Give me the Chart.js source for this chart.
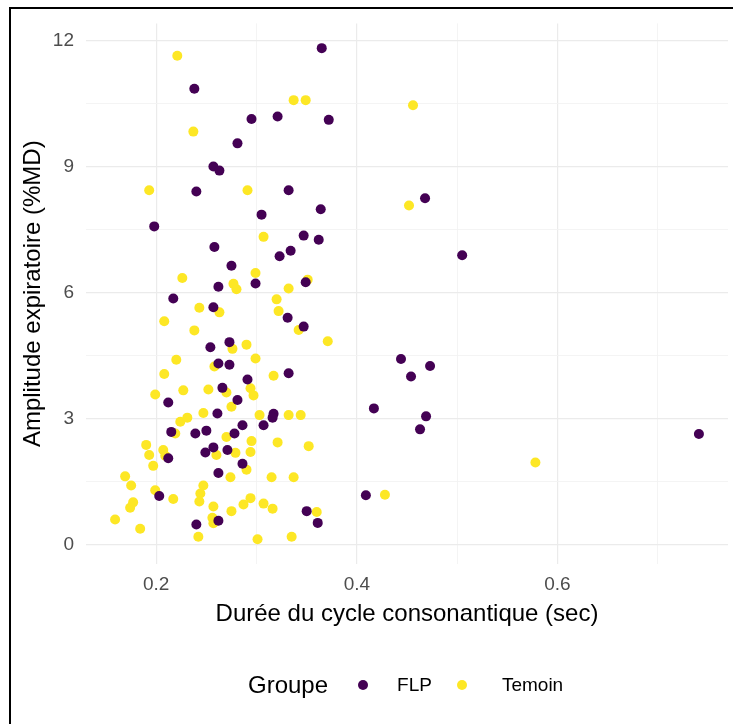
<!DOCTYPE html>
<html>
<head>
<meta charset="utf-8">
<script src="https://cdn.jsdelivr.net/npm/chart.js@4.4.1/dist/chart.umd.min.js"></script>
<style>
html, body { margin: 0; padding: 0; background: #fff; }
body { width: 733px; height: 724px; position: relative; overflow: hidden; font-family: "Liberation Sans", Arial, sans-serif; }
#frame { position: absolute; left: 9px; top: 7px; width: 800px; height: 800px; border-left: 2px solid #000; border-top: 2px solid #000; }
#graf { position: absolute; left: 0; top: 0; }
#legend { position: absolute; left: 248px; top: 668px; height: 34px; display: flex; align-items: center; color: #000; }
#legend .titre { font-size: 24px; margin-right: 30px; }
#legend .pt { width: 10px; height: 10px; border-radius: 50%; display: inline-block; }
#legend .lbl { font-size: 19px; margin-left: 29px; margin-right: 25px; }
</style>
</head>
<body>
<div id="frame"></div>
<canvas id="graf" width="733" height="724"></canvas>
<div id="legend"><span class="titre">Groupe</span></div>
<script>
// valeurs
const groupes = ['FLP', 'Temoin'];
const couleurs = ['#440154', '#FDE725'];

const flpX = [0.238, 0.295, 0.281, 0.257, 0.263, 0.240, 0.365, 0.321, 0.372, 0.332,
              0.364, 0.305, 0.198, 0.347, 0.362, 0.323, 0.334, 0.258, 0.275, 0.299,
              0.349, 0.262, 0.217, 0.257, 0.331, 0.347, 0.254, 0.273, 0.262, 0.273,
              0.332, 0.291, 0.266, 0.281, 0.212, 0.261, 0.317, 0.316, 0.307, 0.286,
              0.215, 0.239, 0.250, 0.278, 0.257, 0.249, 0.271, 0.212, 0.286, 0.262,
              0.203, 0.262, 0.240, 0.350, 0.361, 0.417, 0.409, 0.444, 0.454, 0.473,
              0.469, 0.463, 0.468, 0.505, 0.741];
const flpY = [10.86, 10.14, 9.56, 9.01, 8.91, 8.41, 11.83, 10.20, 10.12, 8.44,
              7.99, 7.86, 7.58, 7.36, 7.26, 6.87, 7.00, 7.09, 6.64, 6.22,
              6.25, 6.14, 5.86, 5.65, 5.40, 5.19, 4.70, 4.82, 4.31, 4.28,
              4.08, 3.93, 3.73, 3.44, 3.38, 3.12, 3.11, 3.02, 2.84, 2.84,
              2.68, 2.64, 2.71, 2.64, 2.31, 2.19, 2.25, 2.05, 1.92, 1.70,
              1.15, 0.56, 0.47, 0.79, 0.51, 3.24, 1.17, 4.42, 4.00, 4.25,
              3.05, 2.74, 8.25, 6.89, 2.63];

const temX = [0.221, 0.237, 0.193, 0.291, 0.337, 0.349, 0.456, 0.452, 0.307, 0.299,
              0.351, 0.332, 0.226, 0.277, 0.280, 0.320, 0.322, 0.243, 0.263, 0.208,
              0.238, 0.342, 0.371, 0.276, 0.290, 0.299, 0.220, 0.208, 0.258, 0.317,
              0.199, 0.227, 0.252, 0.270, 0.294, 0.297, 0.275, 0.247, 0.224, 0.231,
              0.219, 0.270, 0.295, 0.303, 0.332, 0.344, 0.321, 0.352, 0.190, 0.193,
              0.207, 0.209, 0.260, 0.279, 0.294, 0.197, 0.290, 0.274, 0.315, 0.337,
              0.169, 0.175, 0.199, 0.217, 0.247, 0.244, 0.243, 0.177, 0.174, 0.257,
              0.287, 0.294, 0.275, 0.159, 0.256, 0.257, 0.184, 0.242, 0.301, 0.335,
              0.307, 0.316, 0.360, 0.428, 0.578];
const temY = [11.65, 9.84, 8.44, 8.44, 10.59, 10.59, 10.47, 8.08, 7.33, 6.47,
              6.31, 6.10, 6.35, 6.21, 6.08, 5.84, 5.56, 5.64, 5.53, 5.32,
              5.10, 5.11, 4.84, 4.66, 4.76, 4.43, 4.40, 4.06, 4.24, 4.02,
              3.57, 3.67, 3.69, 3.62, 3.72, 3.55, 3.28, 3.13, 2.92, 3.02,
              2.64, 2.56, 2.46, 3.08, 3.08, 3.08, 2.43, 2.34, 2.37, 2.13,
              2.25, 2.11, 2.13, 2.18, 2.20, 1.87, 1.78, 1.60, 1.60, 1.60,
              1.62, 1.40, 1.29, 1.08, 1.40, 1.21, 1.02, 1.00, 0.87, 0.90,
              0.95, 1.10, 0.79, 0.59, 0.63, 0.50, 0.37, 0.18, 0.12, 0.18,
              0.97, 0.85, 0.77, 1.18, 1.95];

const xTicks = [0.2, 0.3, 0.4, 0.5, 0.6, 0.7];
const xLabels = ['0.2', '', '0.4', '', '0.6', ''];
const yTicks = [0, 1.5, 3, 4.5, 6, 7.5, 9, 10.5, 12];
const yLabels = ['0', '', '3', '', '6', '', '9', '', '12'];

const police = '"Liberation Sans", Arial, sans-serif';

function points(xs, ys) {
    return xs.map((x, i) => ({ x: x, y: ys[i] }));
}

function grille(vals, labels) {
    return {
        drawTicks: false,
        color: ctx => labels[vals.indexOf(ctx.tick.value)] ? '#ebebeb' : '#f3f3f3',
        lineWidth: ctx => labels[vals.indexOf(ctx.tick.value)] ? 1.2 : 0.9
    };
}

const chart = new Chart(document.getElementById('graf'), {
    type: 'scatter',
    data: {
        datasets: [
            { label: groupes[0], data: points(flpX, flpY), backgroundColor: couleurs[0] },
            { label: groupes[1], data: points(temX, temY), backgroundColor: couleurs[1] }
        ]
    },
    options: {
        responsive: false,
        animation: false,
        devicePixelRatio: 1,
        layout: { padding: { top: 20, right: 4, bottom: 95.6, left: 0 } },
        elements: { point: { radius: 5, hoverRadius: 5, borderWidth: 0 } },
        plugins: { legend: { display: false }, tooltip: { enabled: false } },
        scales: {
            x: {
                type: 'linear',
                min: 0.130,
                max: 0.770,
                afterBuildTicks: s => { s.ticks = xTicks.map(v => ({ value: v })); },
                afterFit: s => { s.height = 64.4; },
                ticks: {
                    padding: 9,
                    color: '#4d4d4d',
                    font: { family: police, size: 19 },
                    maxRotation: 0,
                    autoSkip: false,
                    callback: v => xLabels[xTicks.indexOf(v)] || ''
                },
                grid: grille(xTicks, xLabels),
                border: { display: false },
                title: {
                    display: true,
                    text: 'Durée du cycle consonantique (sec)',
                    color: '#000',
                    font: { family: police, size: 24 },
                    padding: { top: 0, bottom: 0 }
                }
            },
            y: {
                type: 'linear',
                min: -0.47,
                max: 12.42,
                afterBuildTicks: s => { s.ticks = yTicks.map(v => ({ value: v })); },
                afterFit: s => { s.width = 86; },
                ticks: {
                    padding: 12,
                    color: '#4d4d4d',
                    font: { family: police, size: 19 },
                    autoSkip: false,
                    callback: v => yLabels[yTicks.indexOf(v)] || ''
                },
                grid: grille(yTicks, yLabels),
                border: { display: false },
                title: {
                    display: true,
                    text: 'Amplitude expiratoire (%MD)',
                    color: '#000',
                    font: { family: police, size: 24 },
                    padding: { top: 18.6, bottom: 0 }
                }
            }
        }
    }
});

// légende à la façon ggplot, construite depuis les jeux de données
const leg = document.getElementById('legend');
chart.data.datasets.forEach((d, i) => {
    const pt = document.createElement('span');
    pt.className = 'pt';
    pt.style.background = d.backgroundColor;
    const t = document.createElement('span');
    t.className = 'lbl';
    t.textContent = d.label;
    if (i === 1) t.style.marginLeft = '35px';
    leg.appendChild(pt);
    leg.appendChild(t);
});
</script>
</body>
</html>
